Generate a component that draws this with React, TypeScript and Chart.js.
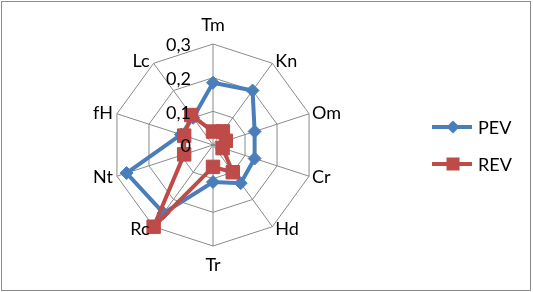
import React, { useEffect, useRef } from 'react';
import { Chart, registerables } from 'chart.js';

Chart.register(...registerables);

const categories = ['Tm', 'Kn', 'Om', 'Cr', 'Hd', 'Tr', 'Rc', 'Nt', 'fH', 'Lc'];
const seriesNames = ['PEV', 'REV'];
const pevValues = [0.185, 0.2, 0.13, 0.13, 0.14, 0.11, 0.25, 0.27, 0.1, 0.1];
const revValues = [0.04, 0.05, 0.04, 0.03, 0.1, 0.065, 0.3, 0.09, 0.09, 0.11];
const tickValues = [0, 0.1, 0.2, 0.3];
const tickLabels = ['0', '0,1', '0,2', '0,3'];

const BLUE = '#4A7EBB';
const RED = '#BE4B48';
const GRID = '#8A8A8A';
const FONT = 'Lato, "Open Sans", sans-serif';

const decorPlugin = {
  id: 'decor',
  afterDraw(chart: any) {
    const ctx = chart.ctx as CanvasRenderingContext2D;
    const r = chart.scales.r;
    const R = r.drawingArea;
    ctx.save();
    // outer frame
    ctx.strokeStyle = '#8C8C8C';
    ctx.lineWidth = 1;
    ctx.strokeRect(1.5, 1.5, 529, 289);

    // point labels
    ctx.fillStyle = '#000';
    ctx.font = `18px ${FONT}`;
    ctx.textBaseline = 'middle';
    categories.forEach((lab, i) => {
      const a = r.getIndexAngle(i);
      const s = Math.sin(a);
      const c = Math.cos(a);
      const p = r.getPointPosition(i, R);
      if (Math.abs(s) < 0.01) {
        ctx.textAlign = 'center';
        ctx.fillText(lab, p.x, p.y - c * 19);
      } else {
        ctx.textAlign = s > 0 ? 'left' : 'right';
        ctx.fillText(lab, p.x + (s > 0 ? 3 : -4), p.y - c * 3);
      }
    });

    // tick labels
    ctx.textAlign = 'right';
    tickValues.forEach((v, i) => {
      const d = r.getDistanceFromCenterForValue(v);
      ctx.fillText(tickLabels[i], r.xCenter - 22, r.yCenter - d + 1.5);
    });

    // legend
    const lx = 432;
    const ly = 127;
    const gap = 37;
    chart.data.datasets.forEach((ds: any, i: number) => {
      const y = ly + i * gap;
      ctx.strokeStyle = ds.borderColor;
      ctx.lineWidth = 4;
      ctx.beginPath();
      ctx.moveTo(lx, y);
      ctx.lineTo(lx + 40, y);
      ctx.stroke();
      ctx.fillStyle = ds.pointBackgroundColor;
      const mx = lx + 21;
      ctx.beginPath();
      if (ds.pointStyle === 'rectRot') {
        const h = 6.5;
        ctx.moveTo(mx - h, y);
        ctx.lineTo(mx, y - h);
        ctx.lineTo(mx + h, y);
        ctx.lineTo(mx, y + h);
        ctx.closePath();
      } else {
        ctx.rect(mx - 6.5, y - 6.5, 13, 13);
      }
      ctx.fill();
      ctx.fillStyle = '#000';
      ctx.textAlign = 'left';
      ctx.fillText(ds.label, lx + 46, y + 1);
    });
    ctx.restore();
  },
};

export default function App() {
  const ref = useRef<HTMLCanvasElement | null>(null);
  useEffect(() => {
    if (!ref.current) return;
    const chart = new Chart(ref.current, {
      type: 'radar',
      data: {
        labels: categories,
        datasets: [
          {
            label: seriesNames[0],
            data: pevValues,
            borderColor: BLUE,
            backgroundColor: BLUE,
            pointBackgroundColor: BLUE,
            pointBorderColor: BLUE,
            pointStyle: 'rectRot',
            pointRadius: 6.5,
            pointBorderWidth: 1,
            borderWidth: 4,
            fill: false,
            order: 1,
          },
          {
            label: seriesNames[1],
            data: revValues,
            borderColor: RED,
            backgroundColor: RED,
            pointBackgroundColor: RED,
            pointBorderColor: RED,
            pointStyle: 'rect',
            pointRadius: 9.5,
            pointBorderWidth: 1,
            borderWidth: 4,
            fill: false,
            order: 0,
          },
        ],
      },
      options: {
        responsive: false,
        animation: false,
        devicePixelRatio: 1,
        layout: { padding: { left: 112, right: 219, top: 44, bottom: 46 } },
        plugins: {
          legend: { display: false },
          tooltip: { enabled: false },
        },
        elements: { line: { tension: 0 } },
        scales: {
          r: {
            min: 0,
            max: 0.3,
            startAngle: 0,
            ticks: { display: false, stepSize: 0.1 },
            pointLabels: { display: false },
            grid: { color: GRID, lineWidth: 1, circular: false },
            angleLines: { color: GRID, lineWidth: 1 },
          },
        },
      },
      plugins: [decorPlugin],
    } as any);
    return () => chart.destroy();
  }, []);
  return (
    <div style={{ position: 'absolute', left: 0, top: 0, width: 533, height: 292, background: '#fff' }}>
      <canvas ref={ref} width={533} height={292} style={{ display: 'block' }} />
    </div>
  );
}
